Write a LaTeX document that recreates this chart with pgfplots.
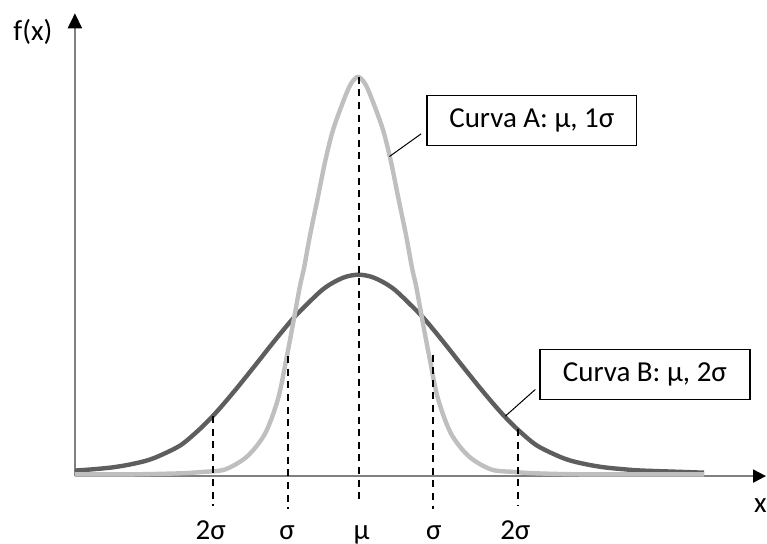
\documentclass[border=0pt]{standalone}
\usepackage{pgfplots}
\pgfplotsset{compat=1.18}
\usetikzlibrary{arrows.meta}
\usepackage{fontspec}
\setmainfont{Carlito}
\definecolor{curveA}{HTML}{BFBFBF}
\definecolor{curveB}{HTML}{5E5E5E}
\definecolor{axisgray}{HTML}{808080}
\tikzset{lbl/.style={font=\fontsize{14.5}{17}\selectfont, inner sep=0pt}}
\begin{document}
\begin{tikzpicture}
\begin{axis}[
  x=0.5pt, y=0.5pt,
  xmin=75, xmax=767, ymin=0, ymax=463.4,
  axis lines=left,
  axis line style={draw=axisgray, line width=1pt},
  x axis line style={-{Triangle[color=black,width=6.5pt,length=6.5pt]}},
  y axis line style={-{Triangle[color=black,width=7pt,length=7.5pt]}},
  xtick=\empty, ytick=\empty,
  clip=false,
]
% Curva B
\addplot[curveB, line width=2.2pt, smooth] coordinates {
(75,5.5) (93,6.8) (111,8.5) (127,11) (145,15) (159,20) (181,31) (200,47) (213,60)
(225,73.5) (240,91.5) (258,114) (267,125.5) (279,140.5) (295,159.5) (314,178.5)
(324,187.5) (334,194) (346,199.5) (359,201.7) (372,199.5) (384,194) (394,187.5)
(404,178.5) (423,159.5) (439,140.5) (451,125.5) (460,114) (478,91.5) (493,73.5)
(505,60) (518,47) (537,31) (559,20) (573,15) (591,11) (607,8.5) (625,6.8) (641,5.6)
(673,4.5) (705,3.4)
};
% Curva A
\addplot[curveA, line width=2.2pt, smooth] coordinates {
(75,1.7) (128.5,1.7) (178.5,2.7) (203.5,4.2) (225.5,6.7) (247.5,19.7) (265.5,42.7)
(278.5,77.7) (287,118.7) (294.5,158.4) (300.3,190) (304.5,208.7) (310.2,240) (318,277.7)
(325.5,314.7) (333.5,346.7) (344.5,377.2) (351.5,393) (358.5,399.7) (365.5,393)
(372.5,377.2) (383.5,346.7) (391.5,314.7) (399,277.7) (406.8,240) (412.5,208.7)
(416.7,190) (422.5,158.4) (430,118.7) (438.5,77.7) (451.5,42.7) (469.5,19.7) (491.5,6.7)
(513.5,4.2) (538.5,2.7) (588.5,1.7) (705,1.7)
};
% dashed reference lines
\addplot[black, line width=1pt, dash pattern=on 3.5pt off 2.8pt] coordinates {(213.3,60) (213.3,-30.3)};
\addplot[black, line width=1pt, dash pattern=on 3.5pt off 2.8pt] coordinates {(288.3,120) (288.3,-33.3)};
\addplot[black, line width=1pt, dash pattern=on 3.5pt off 2.8pt] coordinates {(359.5,399.7) (359.5,-26.3)};
\addplot[black, line width=1pt, dash pattern=on 3.5pt off 2.8pt] coordinates {(433.3,121.7) (433.3,-33.3)};
\addplot[black, line width=1pt, dash pattern=on 3.5pt off 2.8pt] coordinates {(518.3,47) (518.3,-30.3)};
% tick-like labels
\node[lbl, anchor=base] at (axis cs:211,-63.3) {2σ};
\node[lbl, anchor=base] at (axis cs:287.5,-63.3) {σ};
\node[lbl, anchor=base] at (axis cs:362,-63.3) {μ};
\node[lbl, anchor=base] at (axis cs:434.5,-63.3) {σ};
\node[lbl, anchor=base] at (axis cs:516,-63.3) {2σ};
% axis labels
\node[lbl, anchor=base] at (axis cs:33,435.7) {f(x)};
\node[lbl, anchor=base] at (axis cs:761.5,-36.3) {x};
% callouts
\draw[black, line width=0.5pt] (axis cs:421.7,342.7) -- (axis cs:390,320);
\draw[black, line width=0.85pt, fill=white] (axis cs:427.7,331) rectangle (axis cs:637.3,381);
\node[lbl] at (axis cs:532.5,356) {Curva A: μ, 1σ};
\draw[black, line width=0.5pt] (axis cs:536,86.7) -- (axis cs:506,60);
\draw[black, line width=0.85pt, fill=white] (axis cs:540.7,76.7) rectangle (axis cs:750.7,126.7);
\node[lbl] at (axis cs:645.7,101.7) {Curva B: μ, 2σ};
% page frame
\path (axis cs:0,-67.3) rectangle (axis cs:767,476.7);
\end{axis}
\end{tikzpicture}
\end{document}
